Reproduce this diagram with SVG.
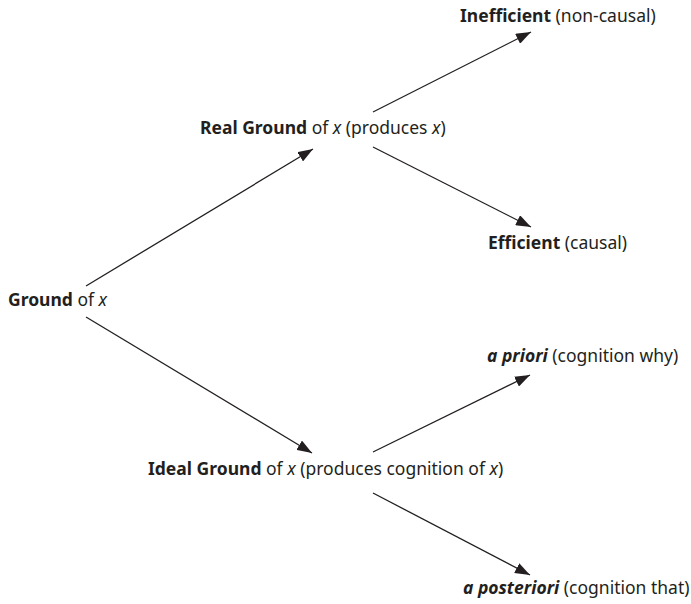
<svg xmlns="http://www.w3.org/2000/svg" width="691" height="604" viewBox="0 0 691 604">
<style>
text{font-family:"Noto Sans","Liberation Sans",sans-serif;font-size:17.5px;fill:#231f20}
.b{font-weight:bold}
.i{font-style:italic}
.c line{stroke:#231f20;stroke-width:1.3;marker-end:url(#ah)}
</style>
<defs>
<marker id="ah" viewBox="0 0 15 11" refX="15" refY="5.5" markerWidth="15" markerHeight="11" markerUnits="userSpaceOnUse" orient="auto">
<path d="M0,0 L15,5.5 L0,11 z" fill="#231f20"/>
</marker>
</defs>
<rect width="691" height="604" fill="#fff"/>
<g class="c" id="connectors">
<line x1="86" y1="286" x2="313" y2="149"/>
<line x1="86" y1="317" x2="312" y2="453"/>
<line x1="373" y1="112" x2="531" y2="32"/>
<line x1="373" y1="147" x2="531" y2="227"/>
<line x1="373" y1="452" x2="530" y2="375"/>
<line x1="373" y1="493" x2="530" y2="575"/>
</g>
<g id="ground"><text x="8" y="306"><tspan class="b">Ground</tspan> of <tspan class="i">x</tspan></text></g>
<g id="real"><text x="200" y="134"><tspan class="b">Real Ground</tspan> of <tspan class="i">x</tspan> (produces <tspan class="i">x</tspan>)</text></g>
<g id="ideal"><text x="148" y="475"><tspan class="b">Ideal Ground</tspan> of <tspan class="i">x</tspan> (produces cognition of <tspan class="i">x</tspan>)</text></g>
<g id="inefficient"><text x="460" y="22"><tspan class="b">Inefficient</tspan> (non-causal)</text></g>
<g id="efficient"><text x="488" y="249"><tspan class="b">Efficient</tspan> (causal)</text></g>
<g id="apriori"><text x="487" y="362"><tspan class="b i">a priori</tspan> (cognition why)</text></g>
<g id="aposteriori"><text x="463" y="594"><tspan class="b i">a posteriori</tspan> (cognition that)</text></g>
</svg>
